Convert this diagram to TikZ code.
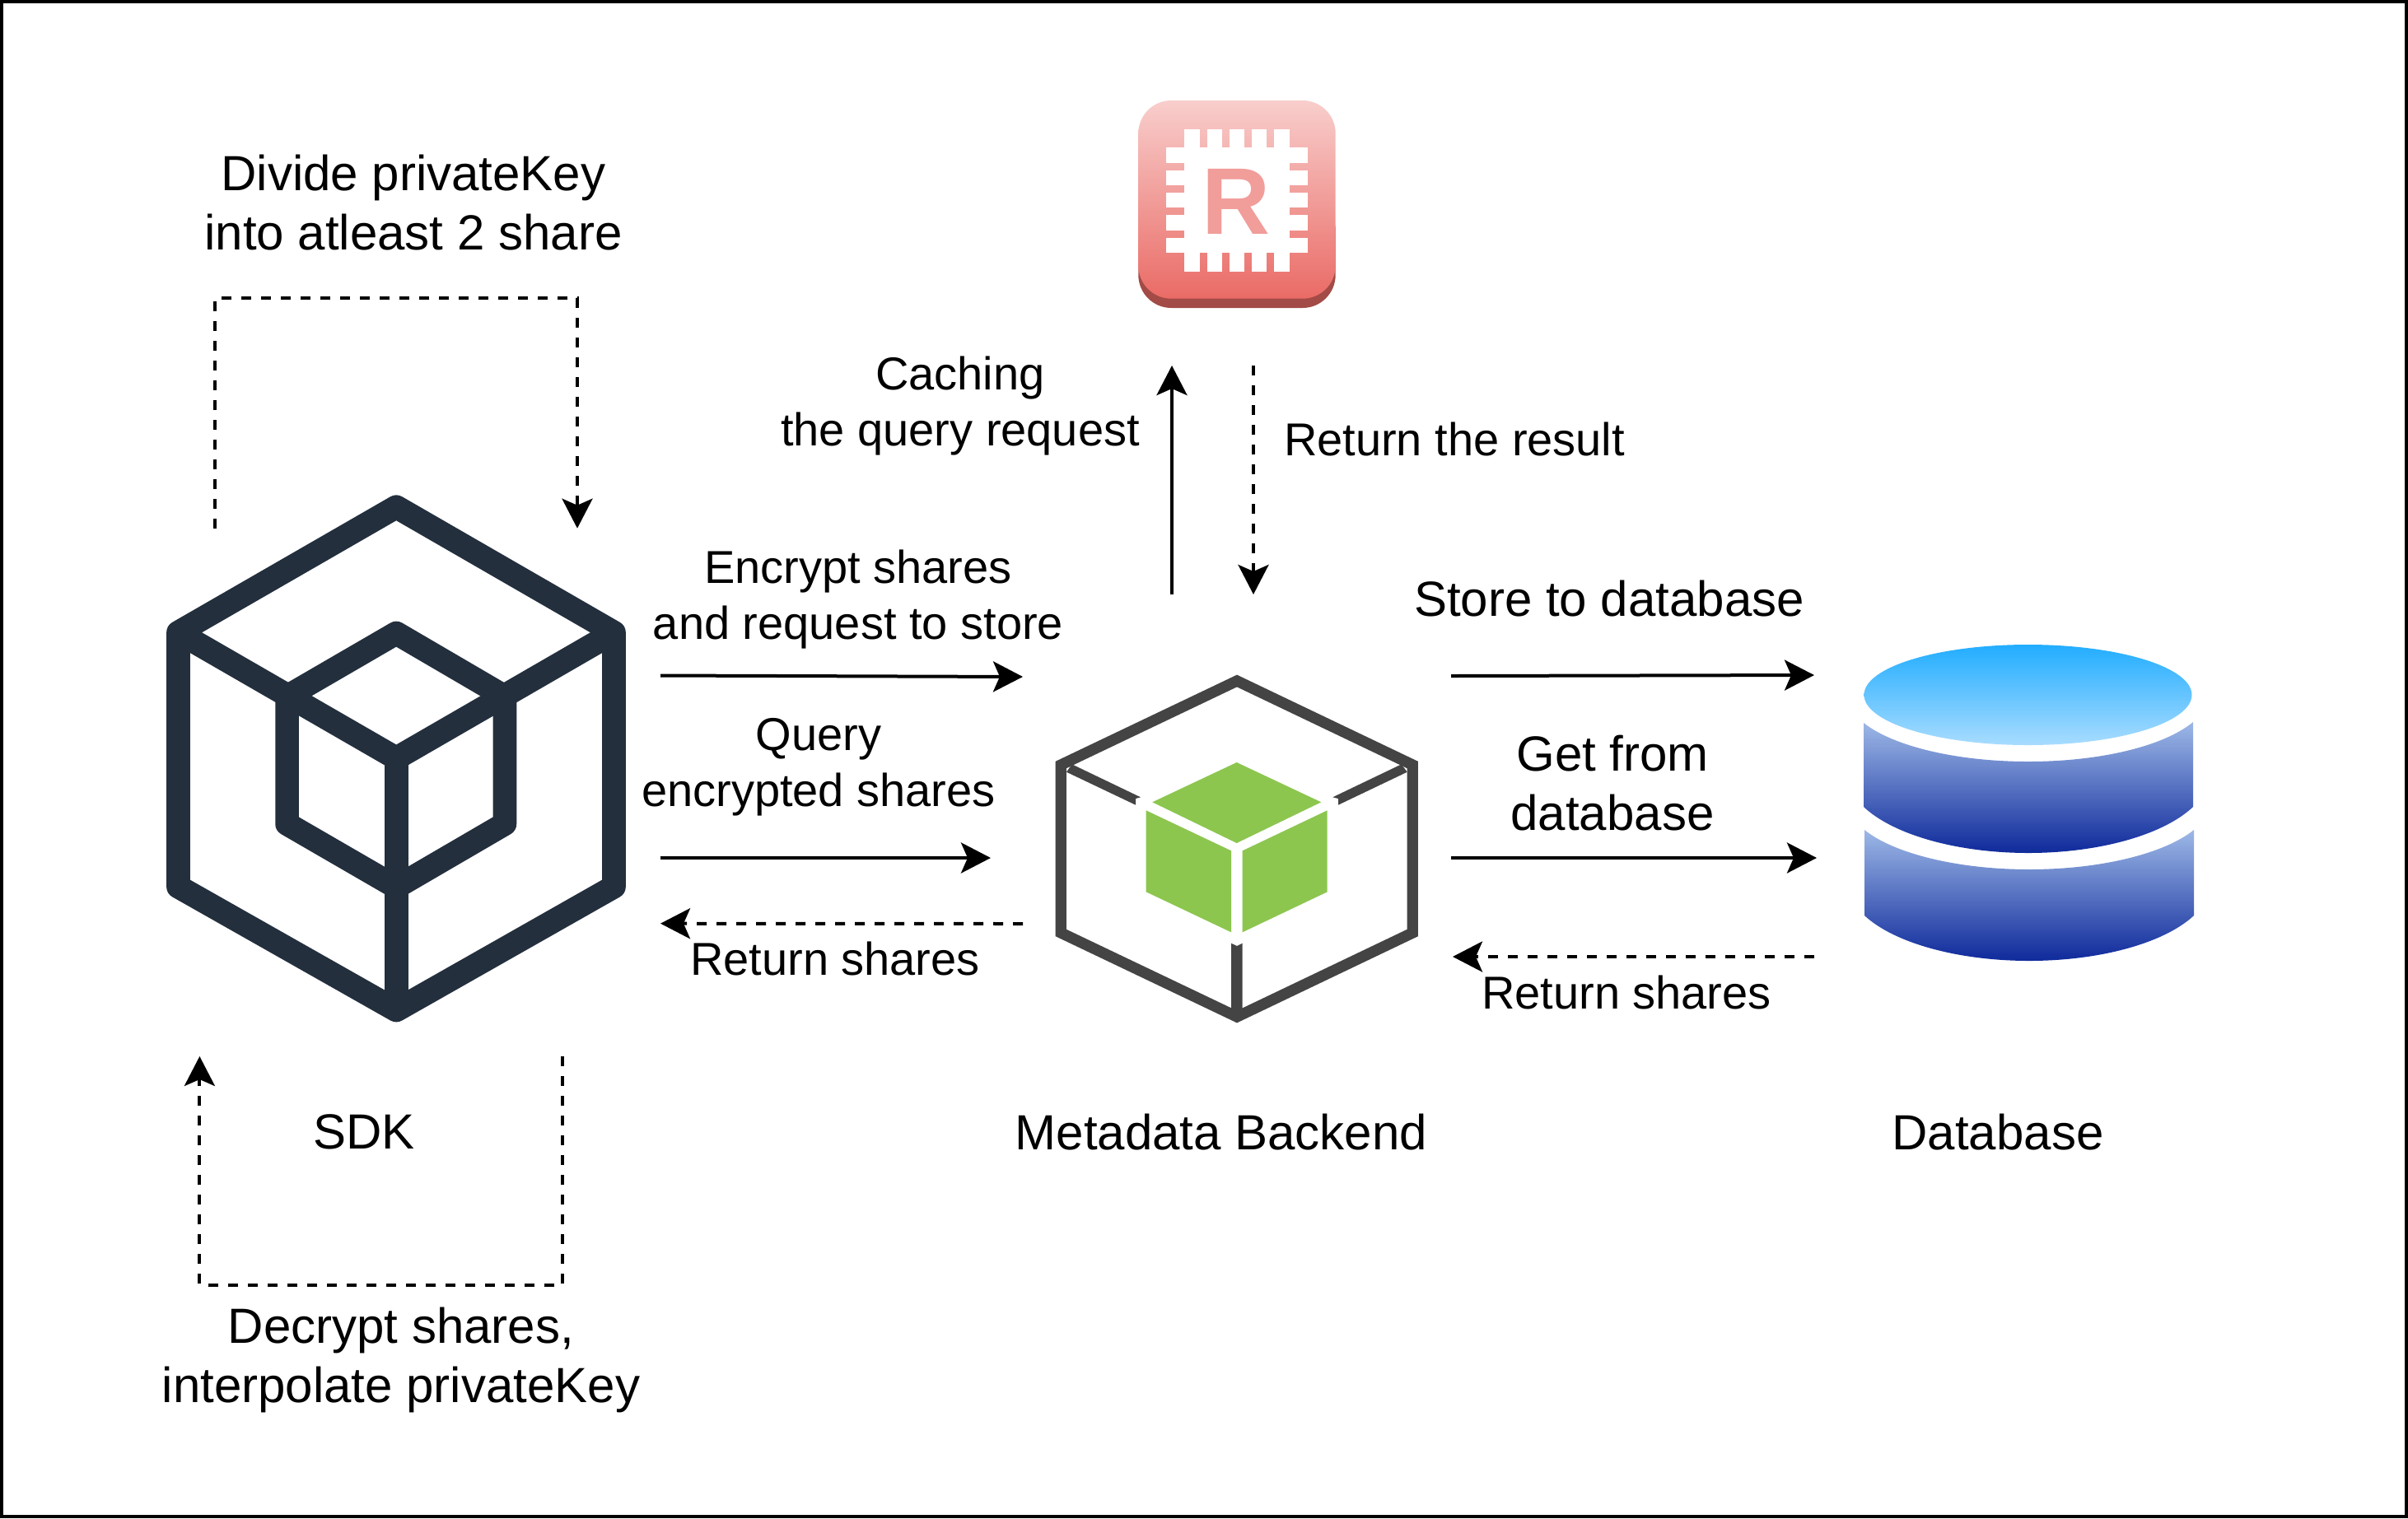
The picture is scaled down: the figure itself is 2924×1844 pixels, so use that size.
\documentclass[tikz,border=0pt]{standalone}
\usepackage{fontspec}
\setmainfont{Liberation Sans}
\usetikzlibrary{arrows.meta}
\definecolor{sdkcol}{HTML}{232F3D}
\definecolor{metacol}{HTML}{444444}
\definecolor{greencol}{HTML}{8CC64F}
\definecolor{facetop}{HTML}{F8CECC}
\definecolor{facebot}{HTML}{EA6B66}
\definecolor{faceside}{HTML}{A34B46}
\definecolor{rletter}{HTML}{F19D9A}
\definecolor{discTop}{HTML}{22ADFF}
\definecolor{discBot}{HTML}{A8DCFF}
\definecolor{bandTop}{HTML}{9DB8E6}
\definecolor{bandBot}{HTML}{0F2A9B}
\tikzset{
  tipstyle/.tip={Stealth[length=18pt,width=18.5pt,inset=4pt]},
  solidflow/.style={line width=2pt,-{tipstyle}},
  dashflow/.style={line width=2pt,dash pattern=on 6pt off 6pt,-{tipstyle}},
  label/.style={font=\fontsize{30}{36}\selectfont,align=center,inner sep=0pt,text=black},
  labelsm/.style={font=\fontsize{28}{34}\selectfont,align=center,inner sep=0pt,text=black},
}
\begin{document}
\begin{tikzpicture}[x=0.5pt,y=-0.5pt]
\useasboundingbox (0,0) rectangle (2924,1844);
\fill[white] (0,0) rectangle (2924,1844);
\draw[black,line width=2pt] (2,2) rectangle (2922,1842);

% SDK cube
\begin{scope}[sdkcol,line width=14.35pt,line join=round]
  \draw (481.2,615.7) -- (745.5,768.2) -- (745.5,1077) -- (481.2,1227) -- (216.5,1077) -- (216.5,768.2) -- cycle;
  \draw (216.5,768.2) -- (481.2,921) -- (745.5,768.2);
  \draw (481.2,921) -- (481.2,1227);
  \draw (481.2,769) -- (612.9,846) -- (612.9,1000.7) -- (481.2,1077.5) -- (348.6,1000.7) -- (348.6,846) -- cycle;
\end{scope}

% Metadata cube
\draw[metacol,line width=6.65pt,miter limit=10] (1502,827) -- (1715.3,929) -- (1715.3,1133) -- (1502,1235) -- (1288.3,1133) -- (1288.3,929) -- cycle;
\fill[metacol] (1301.7,928.3) -- (1385,968.3) -- (1379,970) -- (1379,977.7) -- (1295,937.7) -- cycle;
\fill[metacol] (1701.7,928.3) -- (1618.3,968.3) -- (1625,970) -- (1625,977.7) -- (1708.7,937.7) -- cycle;
\fill[metacol] (1495,1145.7) -- (1502,1149) -- (1508.7,1145.7) -- (1508.7,1235) -- (1495,1235) -- cycle;
\fill[greencol] (1501.7,926) -- (1604.3,974.3) -- (1501.7,1024) -- (1399.3,974.3) -- cycle;
\fill[greencol] (1391.7,984.3) -- (1495,1033.3) -- (1495,1132.3) -- (1391.7,1083.3) -- cycle;
\fill[greencol] (1508.7,1033.3) -- (1611.7,984.3) -- (1611.7,1083.3) -- (1508.7,1132.3) -- cycle;

% Database
\shade[top color=discTop,bottom color=discBot] (2462.5,844) ellipse [x radius=199,y radius=61];
\shade[top color=bandTop,bottom color=bandBot]
  (2263,878) .. controls (2299,906.7) and (2377,925) .. (2463,925)
  .. controls (2549,925) and (2627,906.7) .. (2663,877)
  -- (2663,980) .. controls (2627,1014) and (2549,1036) .. (2463,1036)
  .. controls (2377,1036) and (2299,1014) .. (2263,980) -- cycle;
\shade[top color=bandTop,bottom color=bandBot]
  (2264,1008) .. controls (2300,1037) and (2378,1056) .. (2464,1056)
  .. controls (2550,1056) and (2628,1037) .. (2664,1008)
  -- (2664,1112) .. controls (2628,1145.5) and (2550,1167) .. (2464,1167)
  .. controls (2378,1167) and (2300,1145.5) .. (2264,1112) -- cycle;

% Cache icon
\fill[faceside,rounded corners=20pt] (1382.3,240) rectangle (1621.7,374);
\shade[top color=facetop,bottom color=facebot,rounded corners=20pt] (1382.3,122) rectangle (1621.7,362.7);
\fill[white] (1438.3,179.3) rectangle (1565.7,307.3);
\foreach \xa/\xb in {1438.3/1456.7,1465.7/1484,1493/1511,1520/1538.3,1547.3/1565.7}
  \fill[white] (\xa,157.3) rectangle (\xb,329.7);
\foreach \ya/\yb in {179.3/197.7,207/225.3,234.3/252.3,261.3/280,289/307.3}
  \fill[white] (1416,\ya) rectangle (1588,\yb);
\node[inner sep=0pt,text=rletter,font=\fontsize{57.5}{60}\bfseries] (chipR) at (1501,245) {R};

% Labels
\node[label] (lDivide) at (502,246) {Divide privateKey\\into atleast 2 share};
\node[label] (lDecrypt) at (487,1652) {Decrypt shares,\\interpolate privateKey};
\node[label] (lSdk) at (442,1375) {SDK};
\node[label] (lMeta) at (1483,1375) {Metadata Backend};
\node[label] (lDb) at (2426,1375) {Database};
\node[labelsm] (lCaching) at (1166,493) {Caching\\the query request};
\node[labelsm] (lResult) at (1766,533) {Return the result};
\node[labelsm] (lEncrypt) at (1042,728) {Encrypt shares\\and request to store};
\node[labelsm] (lQuery) at (994,932) {Query\\encrypted shares};
\node[labelsm] (lRetA) at (1014,1164) {Return shares};
\node[label] (lStore) at (1954,727) {Store to database};
\node[label] (lGet) at (1958,951) {Get from\\database};
\node[labelsm] (lRetB) at (1975,1205) {Return shares};

% Connector ends
\coordinate (loopAs) at (261,642);
\coordinate (loopAa) at (261,362);
\coordinate (loopAb) at (701,362);
\coordinate (loopAe) at (701,641.7);
\coordinate (loopBs) at (682.6,1283);
\coordinate (loopBa) at (682.6,1561);
\coordinate (loopBb) at (242.4,1561);
\coordinate (loopBe) at (242.4,1283);
\coordinate (encS) at (802,820.5);
\coordinate (encE) at (1242,822);
\coordinate (qryS) at (802,1042);
\coordinate (qryE) at (1203,1042);
\coordinate (retAS) at (1242,1122);
\coordinate (retAE) at (802,1121.7);
\coordinate (cacheS) at (1423,722);
\coordinate (cacheE) at (1423,444);
\coordinate (resS) at (1522,444);
\coordinate (resE) at (1522,722);
\coordinate (stoS) at (1762,821);
\coordinate (stoE) at (2203,820);
\coordinate (getS) at (1762,1042);
\coordinate (getE) at (2206,1042);
\coordinate (retBS) at (2203,1162);
\coordinate (retBE) at (1764,1162);

\draw[dashflow] (loopAs) -- (loopAa) -- (loopAb) -- (loopAe);
\draw[dashflow] (loopBs) -- (loopBa) -- (loopBb) -- (loopBe);
\draw[solidflow] (encS) -- (encE);
\draw[solidflow] (qryS) -- (qryE);
\draw[dashflow] (retAS) -- (retAE);
\draw[solidflow] (cacheS) -- (cacheE);
\draw[dashflow] (resS) -- (resE);
\draw[solidflow] (stoS) -- (stoE);
\draw[solidflow] (getS) -- (getE);
\draw[dashflow] (retBS) -- (retBE);
\end{tikzpicture}
\end{document}
